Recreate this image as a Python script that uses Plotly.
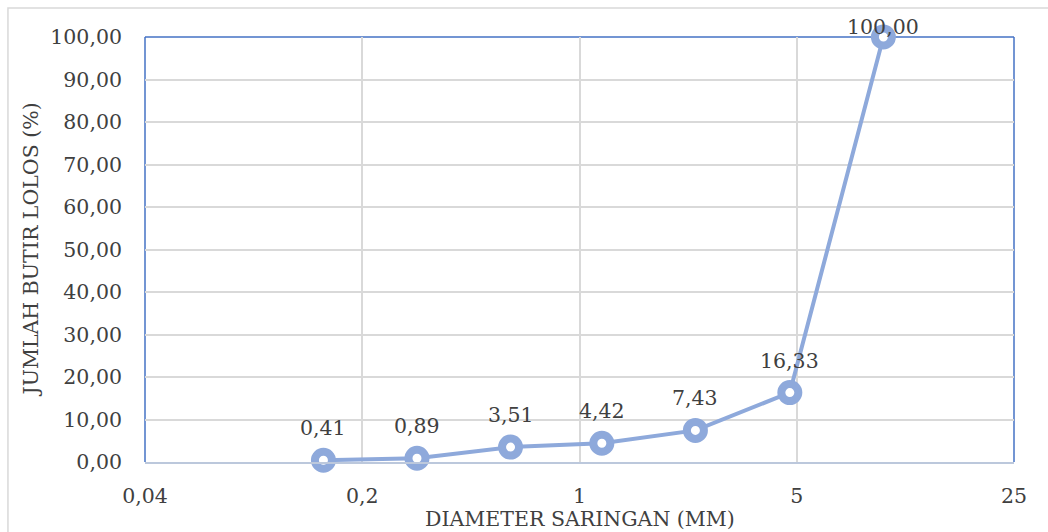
import math
import plotly.graph_objects as go

# Sieve analysis: sieve opening (mm) vs cumulative percent passing
diameter_mm = [0.15, 0.3, 0.6, 1.18, 2.36, 4.75, 9.5]
lolos_pct = [0.41, 0.89, 3.51, 4.42, 7.43, 16.33, 100.00]

x_tick_vals = [0.04, 0.2, 1, 5, 25]
x_tick_text = ["0,04", "0,2", "1", "5", "25"]
y_tick_vals = [0, 10, 20, 30, 40, 50, 60, 70, 80, 90, 100]

FONT = "DejaVu Serif"
FS = 20.5
TEXT_COLOR = "#404040"
SERIES_COLOR = "#8EA9DB"
FRAME_BLUE = "#4472C4"
GRID = "#D9D9D9"


def fmt(v):
    return f"{v:.2f}".replace(".", ",")


fig = go.Figure()
fig.add_trace(go.Scatter(
    x=diameter_mm,
    y=lolos_pct,
    mode="lines+markers",
    line=dict(color=SERIES_COLOR, width=4),
    marker=dict(symbol="circle", size=17, color="white",
                line=dict(color=SERIES_COLOR, width=8)),
    cliponaxis=False,
    hoverinfo="x+y",
))

# value labels above each point (the top one sits lower, inside the chart area)
for xv, yv in zip(diameter_mm, lolos_pct):
    fig.add_annotation(
        x=math.log10(xv), y=yv, xref="x", yref="y",
        text=fmt(yv), showarrow=False,
        yshift=10 if yv >= 100 else 32,
        font=dict(family=FONT, size=FS, color=TEXT_COLOR),
    )

# axis titles
fig.add_annotation(
    x=-0.1323, y=0.5, xref="paper", yref="paper",
    text="JUMLAH BUTIR LOLOS (%)", textangle=-90, showarrow=False,
    xanchor="center", yanchor="middle",
    font=dict(family=FONT, size=FS, color=TEXT_COLOR),
)
fig.add_annotation(
    x=0.5, y=-0.134, xref="paper", yref="paper",
    text="DIAMETER SARINGAN (MM)", showarrow=False,
    xanchor="center", yanchor="middle",
    font=dict(family=FONT, size=FS, color=TEXT_COLOR),
)

# outer chart border and blue plot-area frame
fig.add_shape(type="rect", xref="paper", yref="paper",
              x0=-0.1577, x1=1.06, y0=-0.2, y1=1.068,
              line=dict(color="#D9D9D9", width=1.5), layer="below")
for x0, y0, x1, y1 in [(0, 0, 0, 1), (0, 1, 1, 1), (1, 0, 1, 1)]:
    fig.add_shape(type="line", xref="paper", yref="paper",
                  x0=x0, y0=y0, x1=x1, y1=y1,
                  line=dict(color=FRAME_BLUE, width=1.5), layer="below")

fig.update_layout(
    width=1048, height=532,
    margin=dict(l=145, r=34, t=37, b=70),
    paper_bgcolor="white", plot_bgcolor="white",
    separators=",.",
    showlegend=False,
    font=dict(family=FONT, size=FS, color=TEXT_COLOR),
    xaxis=dict(
        type="log",
        range=[-1.39794, 1.39794],
        tickvals=x_tick_vals, ticktext=x_tick_text,
        showgrid=True, gridcolor=GRID, gridwidth=1.5,
        showline=True, linecolor="#BCC8DC", linewidth=2,
        zeroline=False, ticks="", ticklabelstandoff=14,
    ),
    yaxis=dict(
        range=[0, 100],
        tickvals=y_tick_vals, tickformat=".2f",
        showgrid=True, gridcolor=GRID, gridwidth=1.5,
        zeroline=False, showline=False, ticks="", ticklabelstandoff=22,
    ),
)

fig.write_html("out.html")
